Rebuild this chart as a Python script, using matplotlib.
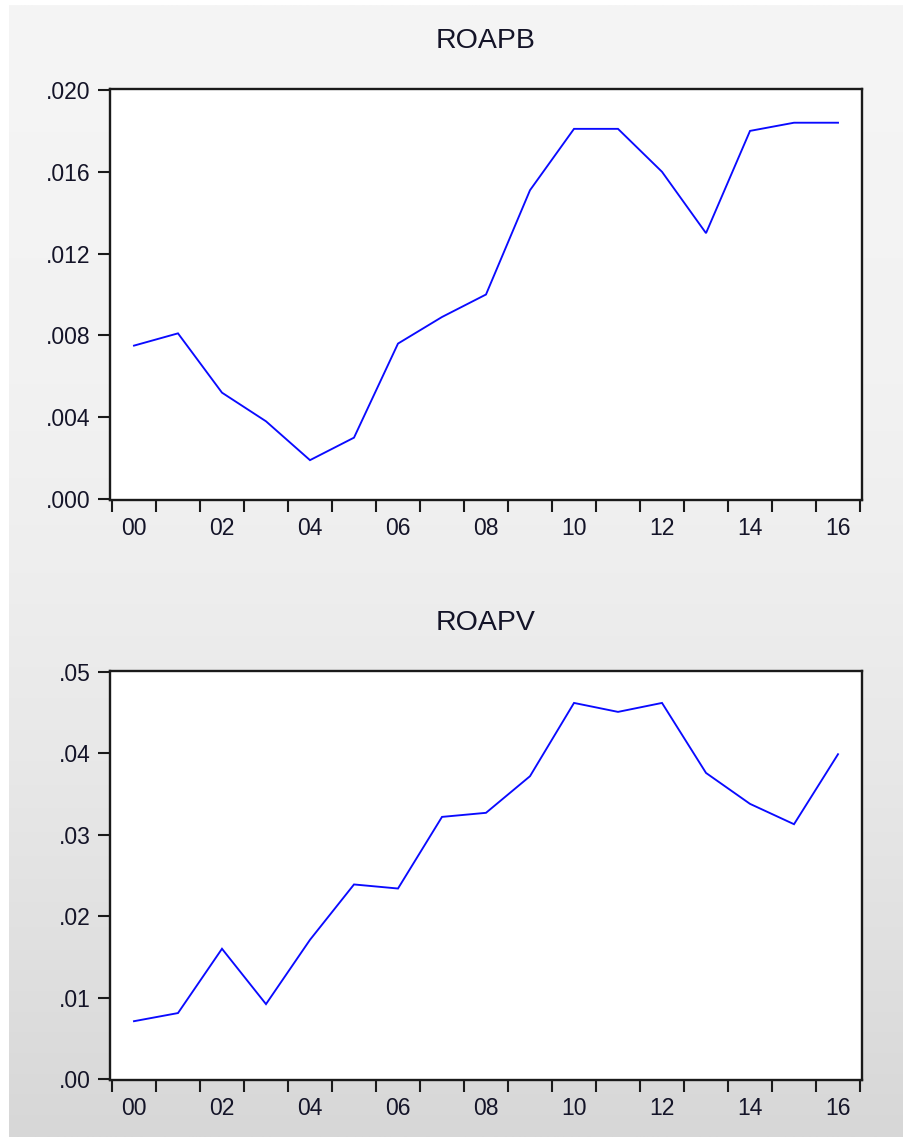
import numpy as np
import matplotlib
matplotlib.use("Agg")
import matplotlib.pyplot as plt
from matplotlib.ticker import FixedLocator, FuncFormatter

plt.rcParams["font.family"] = ["Liberation Sans", "DejaVu Sans"]

years = list(range(2000, 2017))
year_labels = ["00", "02", "04", "06", "08", "10", "12", "14", "16"]

roapb = [0.0075, 0.0081, 0.0052, 0.0038, 0.0019, 0.0030, 0.0076, 0.0089, 0.0100,
         0.0151, 0.0181, 0.0181, 0.0160, 0.0130, 0.0180, 0.0184, 0.0184]
roapv = [0.0071, 0.0081, 0.0160, 0.0092, 0.0171, 0.0239, 0.0234, 0.0322, 0.0327,
         0.0372, 0.0462, 0.0451, 0.0462, 0.0376, 0.0338, 0.0313, 0.0399]

roapb_ticks = [0.000, 0.004, 0.008, 0.012, 0.016, 0.020]
roapv_ticks = [0.00, 0.01, 0.02, 0.03, 0.04, 0.05]

W, H = 904, 1137
fig = plt.figure(figsize=(W / 100, H / 100), dpi=100, facecolor="white")

# soft vertical grey gradient behind the panels
bg = fig.add_axes([9 / W, 0, 1 - 9 / W, (H - 5) / H], zorder=-10)
rows = np.linspace(0, H, 400)
shade = np.interp(rows, [0, 380, 570, 760, 950, H], [245, 242, 238, 232, 224, 215]) / 255
img = np.repeat(shade[:, None], 2, axis=1)
bg.imshow(np.dstack([img, img, img]), aspect="auto", extent=[0, 1, 1, 0])
bg.set_axis_off()


def fmt_dec(decimals):
    return FuncFormatter(lambda v, _: f"{v:.{decimals}f}".lstrip("0") if v >= 0 else f"{v:.{decimals}f}")


def panel(top_px, bottom_px, values, yticks, decimals, title):
    left_px, right_px = 110, 862
    ax = fig.add_axes([left_px / W, 1 - bottom_px / H,
                       (right_px - left_px) / W, (bottom_px - top_px) / H])
    ax.set_facecolor("white")
    x = np.arange(len(years))
    ax.plot(x, values, color="#0a0aff", lw=1.35, solid_joinstyle="miter")

    ax.set_xlim(-0.545, len(years) - 1 + 0.545)
    span = yticks[-1] - yticks[0]
    pad = span / (bottom_px - top_px - 2) * 1.0
    ax.set_ylim(yticks[0] - pad, yticks[-1] + pad)

    ax.yaxis.set_major_locator(FixedLocator(yticks))
    ax.yaxis.set_major_formatter(fmt_dec(decimals))

    label_pos = [years.index(2000 + int(s)) for s in year_labels]
    ax.xaxis.set_major_locator(FixedLocator(label_pos))
    ax.set_xticklabels(year_labels)
    ax.xaxis.set_minor_locator(FixedLocator(np.arange(len(years) + 1) - 0.5))

    for s in ax.spines.values():
        s.set_linewidth(1.7)
        s.set_color("#1a1a1a")

    ax.tick_params(axis="y", which="major", direction="out", length=9, width=1.5,
                   color="#1a1a1a", pad=5, labelsize=16.5, labelcolor="#141428")
    ax.tick_params(axis="x", which="major", length=0, pad=12,
                   labelsize=16.5, labelcolor="#141428")
    ax.tick_params(axis="x", which="minor", direction="out", length=8.5, width=1.5,
                   color="#1a1a1a")

    fig.text((left_px + right_px) / 2 / W, 1 - (top_px - 48.5) / H, title,
             ha="center", va="center", fontsize=20.5, color="#141428")
    return ax


panel(89, 500, roapb, roapb_ticks, 3, "ROAPB")
panel(671, 1080, roapv, roapv_ticks, 2, "ROAPV")

fig.savefig("out.png", dpi=100, facecolor="white")
